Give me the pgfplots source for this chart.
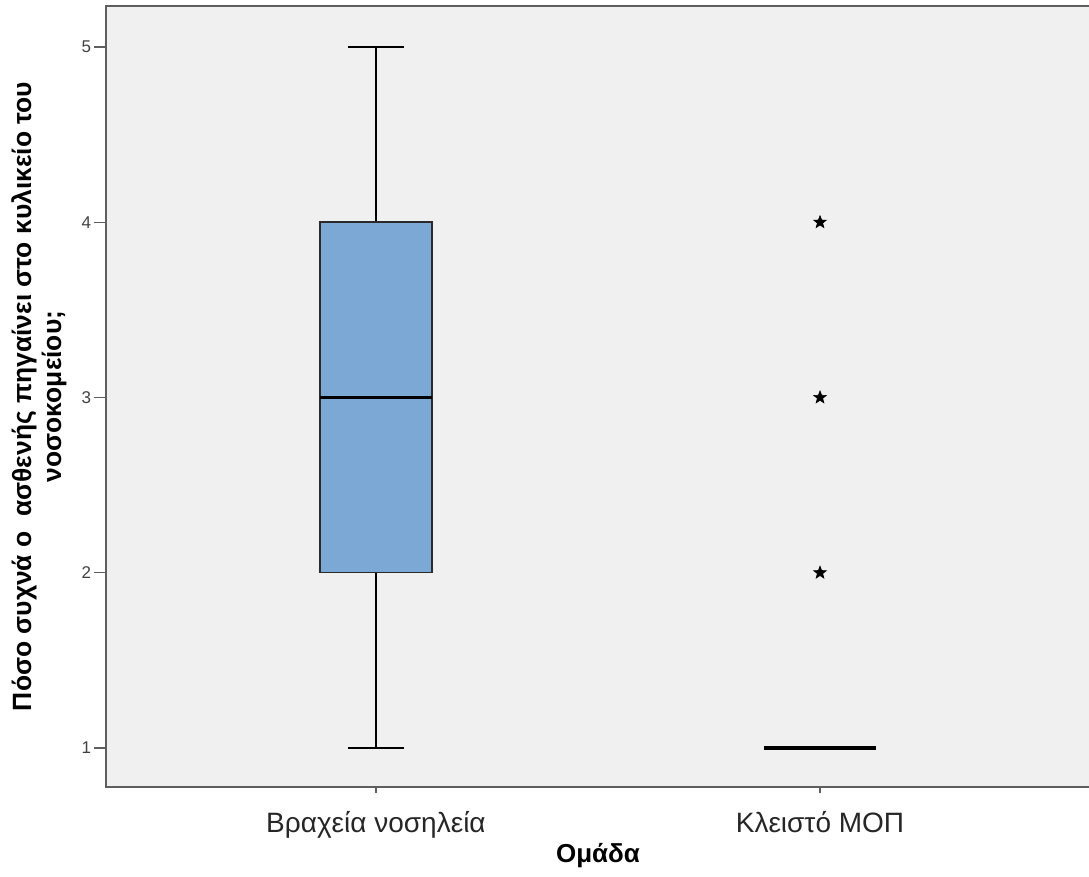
\documentclass[border=0pt]{standalone}
\usepackage{pgfplots}
\pgfplotsset{compat=1.18}
\usepgfplotslibrary{statistics}
\usepackage{fontspec}
\setmainfont{Liberation Sans}

\definecolor{panel}{HTML}{F0F0F0}
\definecolor{frame}{HTML}{5E5E5E}
\definecolor{boxblue}{HTML}{7BA8D5}
\definecolor{boxedge}{HTML}{2A2A2A}

% filled five-pointed star for extreme values
\pgfdeclareplotmark{fstar}{%
  \pgfpathmoveto{\pgfpointpolar{90}{\pgfplotmarksize}}%
  \pgfpathlineto{\pgfpointpolar{126}{0.42\pgfplotmarksize}}%
  \pgfpathlineto{\pgfpointpolar{162}{\pgfplotmarksize}}%
  \pgfpathlineto{\pgfpointpolar{198}{0.42\pgfplotmarksize}}%
  \pgfpathlineto{\pgfpointpolar{234}{\pgfplotmarksize}}%
  \pgfpathlineto{\pgfpointpolar{270}{0.42\pgfplotmarksize}}%
  \pgfpathlineto{\pgfpointpolar{306}{\pgfplotmarksize}}%
  \pgfpathlineto{\pgfpointpolar{342}{0.42\pgfplotmarksize}}%
  \pgfpathlineto{\pgfpointpolar{18}{\pgfplotmarksize}}%
  \pgfpathlineto{\pgfpointpolar{54}{0.42\pgfplotmarksize}}%
  \pgfpathclose
  \pgfusepathqfillstroke}

\begin{document}
\begin{tikzpicture}
\useasboundingbox (0,0) rectangle (544.5pt,438.5pt);
\begin{axis}[
  at={(53pt,45pt)}, anchor=south west,
  scale only axis,
  width=492pt, height=390.5pt,
  xmin=0.392, xmax=2.608,
  ymin=0.7775, ymax=5.234,
  boxplot/draw direction=y,
  axis background/.style={fill=panel},
  axis line style={draw=frame, line width=1pt},
  xtick={1,2},
  xticklabels={Βραχεία νοσηλεία, Κλειστό ΜΟΠ},
  ytick={1,2,3,4,5},
  tick align=outside,
  tick pos=left,
  major tick style={draw=frame, line width=0.7pt},
  xtick style={/pgfplots/major tick length=3pt},
  ytick style={/pgfplots/major tick length=6pt},
  /pgf/number format/assume math mode=true,
  yticklabel style={font=\fontsize{8.5}{10}\selectfont, text=black!75, anchor=east, inner sep=1pt, xshift=-2pt},
  xticklabel style={font=\fontsize{14}{16}\selectfont, text=black!85, anchor=base, yshift=-18.5pt},
  xlabel={Ομάδα},
  xlabel style={at={(axis description cs:0.5,0)}, anchor=base, yshift=-38pt,
    font=\bfseries\fontsize{13}{15}\selectfont},
  ylabel={Πόσο συχνά ο~ ασθενής πηγαίνει στο κυλικείο του\\νοσοκομείου;},
  ylabel style={at={(axis description cs:-0.0682,0.5)}, anchor=center, align=center,
    font=\bfseries\fontsize{13.2}{15}\selectfont},
  clip=false,
]
% Βραχεία νοσηλεία
\addplot[draw=boxedge, line width=0.75pt, fill=boxblue,
  boxplot prepared={draw position=1, median=3, lower quartile=2, upper quartile=4,
    lower whisker=1, upper whisker=5, box extend=0.252, whisker extend=0.126,
    every whisker/.style={draw=black, line width=1pt},
    every median/.style={draw=black, line width=1.5pt}}]
  coordinates {};
% Κλειστό ΜΟΠ
\addplot[draw=black, line width=0.75pt, fill=boxblue, mark=fstar, mark size=3.3pt,
  mark options={fill=black, draw=black, line width=0.3pt},
  boxplot prepared={draw position=2, median=1, lower quartile=1, upper quartile=1,
    lower whisker=1, upper whisker=1, box extend=0.252, whisker extend=0.126,
    every whisker/.style={draw=black, line width=1pt},
    every median/.style={draw=black, line width=2pt}}]
  table[row sep=\\, y index=0] {data\\ 2\\ 3\\ 4\\};
\end{axis}
\end{tikzpicture}
\end{document}
